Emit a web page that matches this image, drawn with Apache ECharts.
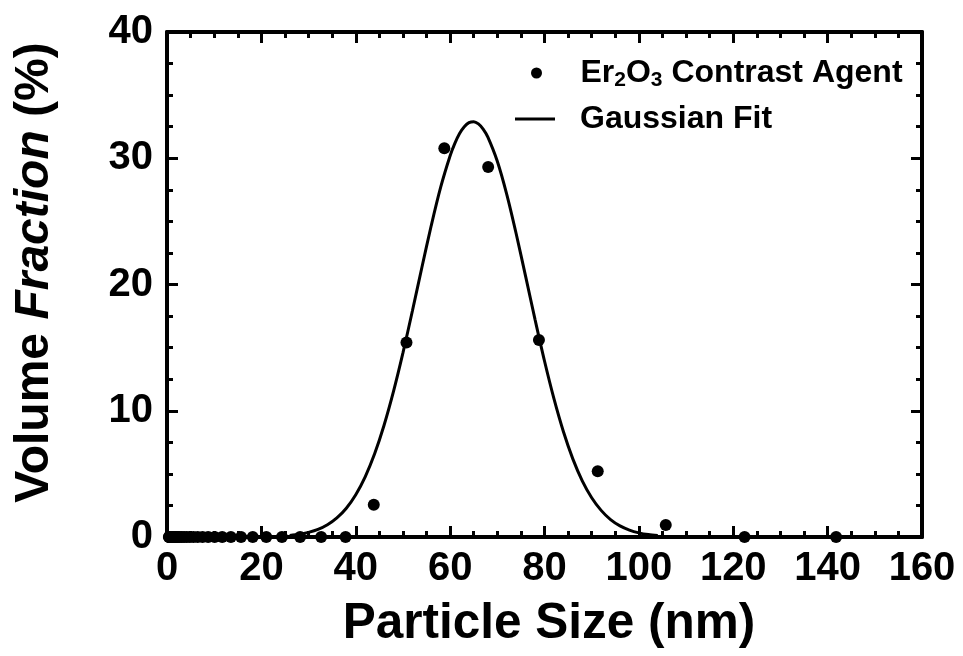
<!DOCTYPE html>
<html>
<head>
<meta charset="utf-8">
<script src="https://cdn.jsdelivr.net/npm/echarts@6/dist/echarts.min.js"></script>
<style>
html,body{margin:0;padding:0;background:#fff;}
#chart{width:963px;height:656px;}
</style>
</head>
<body>
<div id="chart"></div>
<script>
// Measured particle size bins (nm) and volume fraction (%)
const sizeBins = [0.4, 0.4632, 0.5365, 0.6213, 0.7195, 0.8332, 0.9649, 1.117, 1.294, 1.499,
  1.736, 2.01, 2.328, 2.696, 3.122, 3.615, 4.187, 4.849, 5.615, 6.503, 7.531, 8.721,
  10.1, 11.7, 13.54, 15.69, 18.17, 21.04, 24.36, 28.21, 32.67, 37.84, 43.82, 50.75,
  58.77, 68.06, 78.82, 91.28, 105.7, 122.4, 141.8];
const volumeFraction = [0, 0, 0, 0, 0, 0, 0, 0, 0, 0,
  0, 0, 0, 0, 0, 0, 0, 0, 0, 0, 0, 0,
  0, 0, 0, 0, 0, 0, 0, 0, 0, 0, 2.55, 15.4,
  30.8, 29.3, 15.6, 5.2, 0.95, 0, 0];

// Gaussian fit curve
const fitX = [26, 28, 30, 32, 34, 36, 38, 40, 42, 44, 46, 48, 50, 52, 54, 56, 58, 60, 61, 62, 63, 64,
  65, 66, 67, 68, 70, 72, 74, 76, 78, 80, 82, 84, 86, 88, 90, 92, 94, 96, 98, 100, 102, 104];
const fitY = [0.12, 0.21, 0.37, 0.60, 0.97, 1.51, 2.28, 3.35, 4.77, 6.59, 8.85, 11.53, 14.58, 17.90,
  21.33, 24.67, 27.71, 30.20, 31.18, 31.96, 32.50, 32.82, 32.9, 32.72, 32.31, 31.67, 29.76, 27.14,
  24.02, 20.64, 17.22, 13.94, 10.96, 8.36, 6.19, 4.45, 3.11, 2.11, 1.38, 0.88, 0.55, 0.33, 0.19, 0.11];

const xTickValues = [0, 20, 40, 60, 80, 100, 120, 140, 160];
const yTickValues = [0, 10, 20, 30, 40];

const FONT = '"Liberation Sans", Arial, sans-serif';
const chart = echarts.init(document.getElementById('chart'));

const axisLine = {show: true, onZero: false, lineStyle: {color: '#000', width: 4}};
const axisTick = {show: true, inside: true, length: 11, lineStyle: {color: '#000', width: 3}};
const minorTick = {show: true, splitNumber: 4, length: 6, lineStyle: {color: '#000', width: 3}};

const option = {
  animation: false,
  backgroundColor: '#fff',
  grid: {left: 167, right: 41, top: 32, bottom: 119, containLabel: false},
  legend: [
    {
      data: [{name: 'Er2O3 Contrast Agent', icon: 'circle'}],
      left: 526, top: 52, orient: 'vertical',
      itemWidth: 40, itemHeight: 11,
      textStyle: {
        padding: [0, 0, 0, 19],
        rich: {
          a: {fontFamily: FONT, fontWeight: 'bold', fontSize: 32, color: '#000'},
          s: {fontFamily: FONT, fontWeight: 'bold', fontSize: 21, color: '#000', padding: [14, 0, 0, 0]}
        }
      },
      formatter: function () { return '{a|Er}{s|2}{a|O}{s|3}{a| Contrast Agent}'; },
      selectedMode: false
    },
    {
      data: [{name: 'Gaussian Fit', icon: 'rect'}],
      left: 510, top: 98, orient: 'vertical',
      itemWidth: 40, itemHeight: 3,
      textStyle: {fontFamily: FONT, fontWeight: 'bold', fontSize: 32, color: '#000', padding: [0, 0, 0, 20]},
      selectedMode: false
    }
  ],
  xAxis: [
    {
      type: 'value', min: 0, max: 160, interval: 20, position: 'bottom',
      axisLine: axisLine, axisTick: axisTick, minorTick: minorTick,
      splitLine: {show: false},
      axisLabel: {
        show: true, margin: 12, color: '#000', fontFamily: FONT, fontWeight: 'bold', fontSize: 40,
        customValues: xTickValues
      },
      name: 'Particle Size (nm)', nameLocation: 'middle', nameGap: 62,
      nameTextStyle: {color: '#000', fontFamily: FONT, fontWeight: 'bold', fontSize: 49.5, padding: [0, 0, 0, 9]}
    },
    {
      type: 'value', min: 0, max: 160, interval: 20, position: 'top',
      axisLine: axisLine, axisTick: axisTick, minorTick: minorTick,
      splitLine: {show: false}, axisLabel: {show: false}
    }
  ],
  yAxis: [
    {
      type: 'value', min: 0, max: 40, interval: 10, position: 'left',
      axisLine: axisLine, axisTick: axisTick, minorTick: minorTick,
      splitLine: {show: false},
      axisLabel: {
        show: true, margin: 14, color: '#000', fontFamily: FONT, fontWeight: 'bold', fontSize: 40,
        customValues: yTickValues
      },
      name: '{n|Volume }{i|Fraction}{n| (%)}', nameLocation: 'middle', nameGap: 108, nameRotate: 90,
      nameTextStyle: {
        color: '#000', padding: [0, 0, 0, 24],
        rich: {
          n: {fontFamily: FONT, fontWeight: 'bold', fontSize: 48, color: '#000'},
          i: {fontFamily: FONT, fontWeight: 'bold', fontStyle: 'italic', fontSize: 48, color: '#000'}
        }
      }
    },
    {
      type: 'value', min: 0, max: 40, interval: 10, position: 'right',
      axisLine: axisLine, axisTick: axisTick, minorTick: minorTick,
      splitLine: {show: false}, axisLabel: {show: false}
    }
  ],
  series: [
    {
      name: 'Er2O3 Contrast Agent',
      type: 'scatter',
      xAxisIndex: 0, yAxisIndex: 0,
      symbol: 'circle', symbolSize: 12,
      clip: false,
      itemStyle: {color: '#000', opacity: 1},
      data: sizeBins.map((x, i) => [x, volumeFraction[i]]),
      z: 5
    },
    {
      name: 'Gaussian Fit',
      type: 'line',
      xAxisIndex: 0, yAxisIndex: 0,
      symbol: 'none', smooth: 0.3,
      clip: false,
      lineStyle: {color: '#000', width: 3},
      itemStyle: {color: '#000'},
      data: fitX.map((x, i) => [x, fitY[i]]),
      z: 4
    }
  ]
};
chart.setOption(option);
</script>
</body>
</html>
